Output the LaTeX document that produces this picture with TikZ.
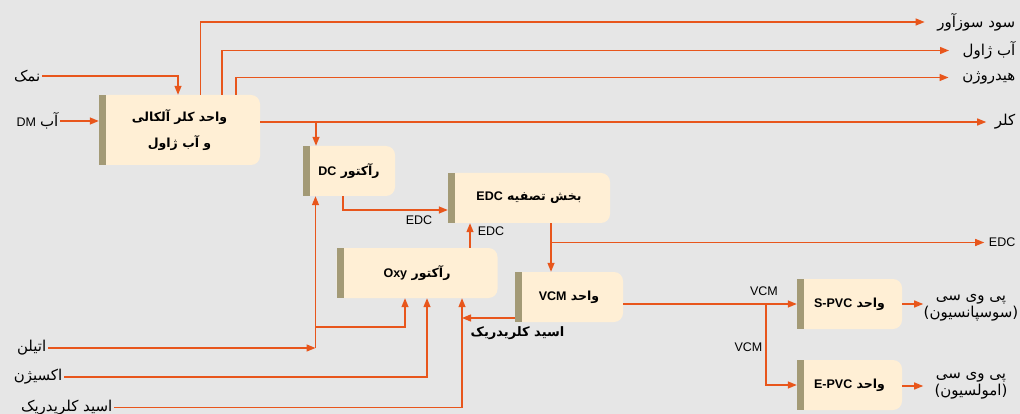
\documentclass[tikz,border=0pt]{standalone}
\usepackage{fontspec}
\setmainfont{Liberation Sans}
\newfontfamily\arfont[Script=Arabic]{DejaVu Sans}
\TeXXeTstate=1
\usetikzlibrary{arrows.meta,calc}
\definecolor{bgc}{HTML}{E6E6E6}
\definecolor{orng}{HTML}{E8561C}
\definecolor{boxf}{HTML}{FFEFD5}
\definecolor{barc}{HTML}{A39A76}
\newcommand\AR[1]{{\arfont\beginR #1\endR}}
\newcommand\LT[1]{{\rmfamily\beginL #1\endL}}
\newcommand\arbigsize{\fontsize{15}{16}\selectfont}
\tikzset{
  unit/.style={minimum height=50pt, inner sep=0pt, text=black,
    font=\fontsize{12.5}{26}\selectfont\bfseries,
    path picture={
      \fill[boxf, rounded corners=9pt] (path picture bounding box.south west) rectangle (path picture bounding box.north east);
      \fill[boxf] (path picture bounding box.south west) rectangle ([xshift=20pt]path picture bounding box.north west);
      \fill[barc] (path picture bounding box.south west) rectangle ([xshift=7pt]path picture bounding box.north west);
    }},
  lbl/.style={inner xsep=1.5pt, inner ysep=0pt, text=black, font=\fontsize{12.5}{16}\selectfont},
  lbla/.style={lbl, font=\fontsize{15}{17}\selectfont},
  arr/.style={draw=orng, line width=1.3pt, -{Triangle[length=9pt,width=7pt]}}
}
\begin{document}
\begin{tikzpicture}[x=1pt,y=-1pt]
\fill[bgc] (0,0) rectangle (1020,414);
\useasboundingbox (0,0) rectangle (1020,414);

% units
\node[unit, minimum width=161pt, minimum height=70pt, align=center] (b1) at (179.5,130) {\AR{واحد کلر آلکالی}\\\AR{و آب ژاول}};
\node[unit, minimum width=92pt] (dc) at (349,171) {\AR{رآکتور \LT{DC}}};
\node[unit, minimum width=162pt] (edc) at (529,198) {\AR{بخش تصفیه \LT{EDC}}};
\node[unit, minimum width=161pt] (oxy) at (417,273) {\AR{رآکتور \LT{Oxy}}};
\node[unit, minimum width=108pt] (vcm) at (569,297) {\AR{واحد \LT{VCM}}};
\node[unit, minimum width=105pt] (spvc) at (849.5,304) {\AR{واحد \LT{S-PVC}}};
\node[unit, minimum width=105pt] (epvc) at (849.5,385) {\AR{واحد \LT{E-PVC}}};

% input labels
\node[lbla, anchor=east] (salt) at (42,76) {\AR{نمک}};
\node[lbl, anchor=east] (dm) at (60,121) {\AR{{\arbigsize آب} \LT{DM}}};
\node[lbla, anchor=east] (eth) at (48,348) {\AR{اتیلن}};
\node[lbla, anchor=east] (o2) at (64,377) {\AR{اکسیژن}};
\node[lbla, anchor=east] (hclin) at (114,407.5) {\AR{اسید کلریدریک}};

% output labels
\node[lbla, anchor=east] (soda) at (1017,22) {\AR{سود سوزآور}};
\node[lbla, anchor=east] (javel) at (1017,50.5) {\AR{آب ژاول}};
\node[lbla, anchor=east] (hyd) at (1017,77.5) {\AR{هیدروژن}};
\node[lbla, anchor=east] (cl) at (1017,122) {\AR{کلر}};
\node[lbl, anchor=east] (edco) at (1017,242.5) {EDC};
\node[lbla, align=center] (pvcs) at (971,307.5) {\AR{پی وی سی}\\\AR{(سوسپانسیون)}};
\node[lbla, align=center] (pvce) at (971,386) {\AR{پی وی سی}\\\AR{(امولسیون)}};

% connector labels
\node[lbl] (le1) at (419,220) {EDC};
\node[lbl] (le2) at (491,231) {EDC};
\node[lbl] (lv1) at (764,291) {VCM};
\node[lbl] (lv2) at (748.5,347) {VCM};
\node[lbl, font=\fontsize{13}{16}\selectfont\bfseries] (lhcl) at (517.5,333) {\AR{اسید کلریدریک}};

% connectors
\draw[arr] (salt.east) -| ([xshift=-1.5pt]b1.north);
\draw[arr] (dm.east) -- (dm.east -| b1.west);
\draw[arr] ([xshift=21pt]b1.north) |- ([xshift=-11pt]soda.west);
\draw[arr] ([xshift=42.5pt]b1.north) |- ([xshift=-12pt]javel.west);
\draw[arr] ([xshift=56.5pt]b1.north) |- ([xshift=-12pt]hyd.west);
\draw[arr] (b1.east |- cl.west) -- ([xshift=-7pt]cl.west);
\draw[arr] ([xshift=-33pt]dc.north |- cl.west) -- ([xshift=-33pt]dc.north);
\draw[arr] ([xshift=-6pt]dc.south) |- ([yshift=-12pt]edc.west);
\draw[arr] ([xshift=53pt]oxy.north) -- ([xshift=53pt]oxy.north |- edc.south);
\draw[arr] ([xshift=22pt]edc.south) -- ([xshift=22pt]edc.south |- vcm.north);
\draw[arr] ([xshift=22pt]edc.south |- edco.west) -- ([xshift=-3pt]edco.west);
\draw[arr] (vcm.east |- spvc.west) -- (spvc.west);
\coordinate (vbr) at (766,304);
\draw[arr] (vbr) |- (epvc.west);
\draw[arr] (spvc.east) -- ([xshift=21pt]spvc.east);
\draw[arr] ([yshift=-1pt]epvc.east) -- ([xshift=21pt,yshift=-1pt]epvc.east);
\coordinate (hclx) at ([xshift=45pt]oxy.south);
\draw[arr] ([yshift=-21pt]vcm.west) -- ([yshift=-21pt]vcm.west -| hclx);
\draw[arr] (hclin.east) -| (hclx);
\draw[arr] (o2.east) -| ([xshift=10pt]oxy.south);
\coordinate (ethx) at ([xshift=-33.5pt]dc.south);
\draw[arr] (eth.east) -- (eth.east -| ethx);
\draw[arr] (eth.east -| ethx) -- (ethx);
\coordinate (ethb) at (315.5,327);
\draw[arr] (ethb) -| ([xshift=-12pt]oxy.south);
\end{tikzpicture}
\end{document}
